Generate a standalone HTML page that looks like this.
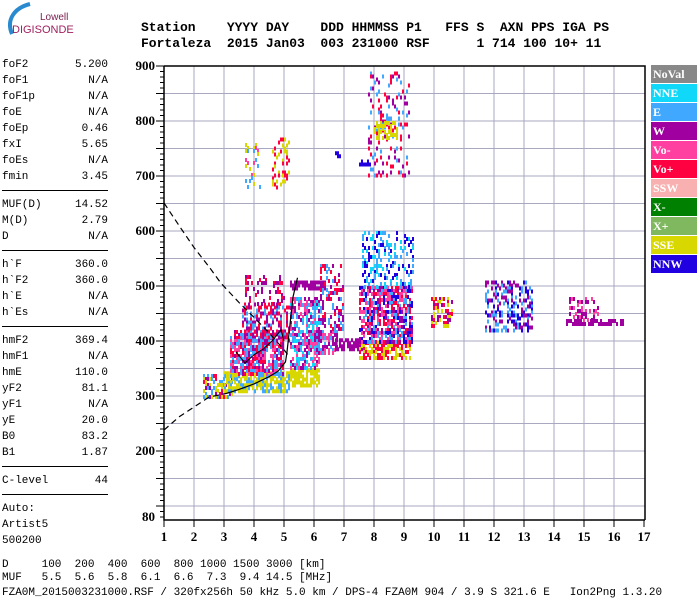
<!DOCTYPE html>
<html><head><meta charset="utf-8"><style>
body{margin:0;background:#fff;width:700px;height:600px;overflow:hidden;position:relative;font-family:"Liberation Mono",monospace;}
.t{position:absolute;white-space:pre;font-size:11px;color:#000;}
.h{position:absolute;white-space:pre;font-weight:bold;font-size:13px;font-family:"Liberation Mono",monospace;}
.lg{position:absolute;left:651px;width:46px;height:18px;color:#fff;font:bold 12px "Liberation Serif",serif;line-height:18px;padding-left:2px;box-sizing:border-box;}
</style></head><body>
<svg style="position:absolute;left:0;top:0" width="80" height="40">
<path d="M12,34 C6,20 14,8 30,4" stroke="#2a8ad0" stroke-width="4" fill="none"/>
<text x="40" y="20" font-family="Liberation Sans" font-size="10" fill="#7a2050">Lowell</text>
<text x="12" y="33" font-family="Liberation Sans" font-size="11" fill="#a02060">DIGISONDE</text>
</svg>
<div class="h" style="left:141px;top:20px">Station    YYYY DAY    DDD HHMMSS P1   FFS S  AXN PPS IGA PS</div>
<div class="h" style="left:141px;top:36px">Fortaleza  2015 Jan03  003 231000 RSF      1 714 100 10+ 11</div>
<div id="left"></div>
<svg id="chart" style="position:absolute;left:0;top:0" width="700" height="600"></svg>
<div class="lg" style="top:65px;background:#888">NoVal</div>
<div class="lg" style="top:84px;background:#10d8f8">NNE</div>
<div class="lg" style="top:103px;background:#40a8ff">E</div>
<div class="lg" style="top:122px;background:#a000a0">W</div>
<div class="lg" style="top:141px;background:#ff40a0">Vo-</div>
<div class="lg" style="top:160px;background:#ff0040">Vo+</div>
<div class="lg" style="top:179px;background:#f8b0b0">SSW</div>
<div class="lg" style="top:198px;background:#008000">X-</div>
<div class="lg" style="top:217px;background:#80b860">X+</div>
<div class="lg" style="top:236px;background:#d8d800">SSE</div>
<div class="lg" style="top:255px;background:#2000e0">NNW</div>
<div class="t" style="left:2px;top:559px">D     100  200  400  600  800 1000 1500 3000 [km]</div>
<div class="t" style="left:2px;top:572px">MUF   5.5  5.6  5.8  6.1  6.6  7.3  9.4 14.5 [MHz]</div>
<div class="t" style="left:2px;top:587px">FZA0M_2015003231000.RSF / 320fx256h 50 kHz 5.0 km / DPS-4 FZA0M 904 / 3.9 S 321.6 E   Ion2Png 1.3.20</div>
<script>
const params=[["foF2","5.200"],["foF1","N/A"],["foF1p","N/A"],["foE","N/A"],["foEp","0.46"],["fxI","5.65"],["foEs","N/A"],["fmin","3.45"],null,["MUF(D)","14.52"],["M(D)","2.79"],["D","N/A"],null,["h`F","360.0"],["h`F2","360.0"],["h`E","N/A"],["h`Es","N/A"],null,["hmF2","369.4"],["hmF1","N/A"],["hmE","110.0"],["yF2","81.1"],["yF1","N/A"],["yE","20.0"],["B0","83.2"],["B1","1.87"],null,["C-level","44"],null,["Auto:",""],["Artist5",""],["500200",""]];
const left=document.getElementById('left');
let y=59;
params.forEach(p=>{
 if(!p){const l=document.createElement('div');l.style.cssText='position:absolute;left:2px;width:106px;top:'+(y+3)+'px;border-top:1px solid #000';
 
 
 left.appendChild(l);y+=12;return;}
 const d=document.createElement('div');d.className='t';d.style.left='2px';d.style.top=y+'px';d.textContent=p[0];
 
 
 left.appendChild(d);
 if(p[1]){const v=document.createElement('div');v.className='t';v.style.right=(700-108)+'px';v.style.top=y+'px';v.textContent=p[1];
 
 
 left.appendChild(v);}
 y+=16;
});

const xTicks=[1,2,3,4,5,6,7,8,9,10,11,12,13,14,15,16,17];
const yTicks=[80,200,300,400,500,600,700,800,900];
const colors={NoVal:"#888",NNE:"#10d8f8",E:"#40a8ff",W:"#a000a0","Vo-":"#ff40a0","Vo+":"#ff0040",SSW:"#f8b0b0","X-":"#008000","X+":"#80b860",SSE:"#d8d800",NNW:"#2000e0"};
const blockF0=[2.3,3.0,3.2,3.6,3.7,5.2,5.2,5.2,6.0,6.2,6.7,7.5,7.5,7.6,9.9,11.7,14.4,14.5,3.7,4.6,7.8,8.0,7.5,6.7];
const blockF1=[3.3,5.2,5.0,5.2,5.0,6.2,6.2,6.4,6.8,7.0,7.6,9.2,9.3,9.3,10.6,13.3,16.3,15.5,4.2,5.2,9.2,8.8,7.9,6.9];
const blockH0=[300,310,340,400,470,320,350,495,380,420,385,370,400,500,430,420,430,440,680,680,700,770,720,735];
const blockH1=[340,345,420,470,520,350,480,510,420,540,405,400,500,600,480,510,440,480,760,770,890,800,730,745];
const blockCols=[["E","W","Vo+","SSE"],["SSE","SSE","E"],["Vo+","W","E","Vo-"],["Vo+","E","W"],["Vo+","W"],["SSE"],["E","W","Vo-","NNE"],["W"],["W","Vo-","E"],["E","W","Vo+"],["W"],["SSE","Vo+"],["W","E","Vo-","Vo+","NNW"],["E","NNE","NNW"],["SSE","Vo+","W"],["E","NNW","W"],["W"],["W","Vo-"],["SSE","E","Vo-"],["SSE","Vo+"],["E","Vo+","W"],["SSE"],["NNW"],["NNW"]];
const blockDensity=[0.5,0.7,0.75,0.45,0.25,0.7,0.65,0.8,0.7,0.35,0.8,0.7,0.7,0.3,0.5,0.4,0.7,0.3,0.25,0.25,0.2,0.5,0.6,0.6];
const upperDashF=[1,1.5,2,2.5,2.9,3.5,4,4.5,5,5.2];
const upperDashH=[651,610,570,535,505,470,443,415,384,370];
const lowerDashF=[1,1.5,2,2.5,3.1];
const lowerDashH=[238,262,280,298,305];
const solidF=[3.1,3.5,4,4.5,4.8,5.05,5.1,5.2,5.3,5.45];
const solidH=[305,312,322,335,345,362,380,430,480,515];
const traceF=[3.4,3.7,4.0,4.3,4.6,4.9,5.0];
const traceH=[380,360,375,385,400,420,400];

const X=f=>164+(f-1)*30;
const Y=h=>66+(900-h)*0.55;
const svg=document.getElementById('chart');
const NS="http://www.w3.org/2000/svg";
function el(t,a){const e=document.createElementNS(NS,t);for(const k in a)e.setAttribute(k,a[k]);svg.appendChild(e);return e;}
function hsh(a,b){let h=(a*374761393+b*668265263)|0;h=(h^(h>>>13))*1274126177|0;h=h^(h>>>16);return (h>>>0)%1000/1000;}
for(let h=100;h<=900;h+=50){const g=el('line',{x1:164,x2:645,y1:Y(h),y2:Y(h),stroke:'#a8a8c0','stroke-width':1});
 
 }
for(let f=2;f<=16;f++){const g=el('line',{x1:X(f),x2:X(f),y1:66,y2:520,stroke:'#a8a8c0','stroke-width':1});
 
 }
blockF0.forEach((f0,b)=>{
 const x0=X(f0),x1=X(blockF1[b]),y0=Y(blockH1[b]),y1=Y(blockH0[b]);
 const cols=blockCols[b];let i=0;
 for(let x=x0;x<x1;x+=2){let j=0;for(let yy=y0;yy<y1;yy+=3){
  if(hsh(i+b*1000,j)<blockDensity[b]){
   const r=el('rect',{x:x,y:yy,width:2,height:4,fill:colors[cols[Math.floor(hsh(j+b*77,i+5)*cols.length)]]});
   
   
  }j++;}i++;}
});
function poly(F,H,attrs,name){const p=el('polyline',Object.assign({points:F.map((f,i)=>X(f)+','+Y(H[i])).join(' '),fill:'none'},attrs));
 
 }
poly(upperDashF,upperDashH,{stroke:'#000','stroke-width':1.2,'stroke-dasharray':'6,4'},'upper-dashed-curve');
poly(lowerDashF,lowerDashH,{stroke:'#000','stroke-width':1.2,'stroke-dasharray':'6,4'},'lower-dashed-curve');
poly(solidF,solidH,{stroke:'#000','stroke-width':1.2},'profile-curve');
poly(traceF,traceH,{stroke:'#000','stroke-width':1},'trace-curve');
const fr=el('path',{d:'M164,66 H645 V520 M164,66 V520 H645',stroke:'#000','stroke-width':1.5,fill:'none'});


for(let h=80;h<=900;h+=10){const len=(h%50===0)?8:4;const t=el('line',{x1:164-len,x2:164,y1:Y(h),y2:Y(h),stroke:'#000'});
 
 }
xTicks.forEach(f=>{const t=el('line',{x1:X(f),x2:X(f),y1:520,y2:527,stroke:'#000'});
 
 
 const l=el('text',{x:X(f),y:541,'text-anchor':'middle','font-family':'Liberation Serif','font-weight':'bold','font-size':13});
 l.textContent=f;
 
 });
yTicks.forEach(h=>{const l=el('text',{x:155,y:Y(h)+4,'text-anchor':'end','font-family':'Liberation Serif','font-weight':'bold','font-size':13});
 l.textContent=h;
 
 });
</script>
</body></html>
